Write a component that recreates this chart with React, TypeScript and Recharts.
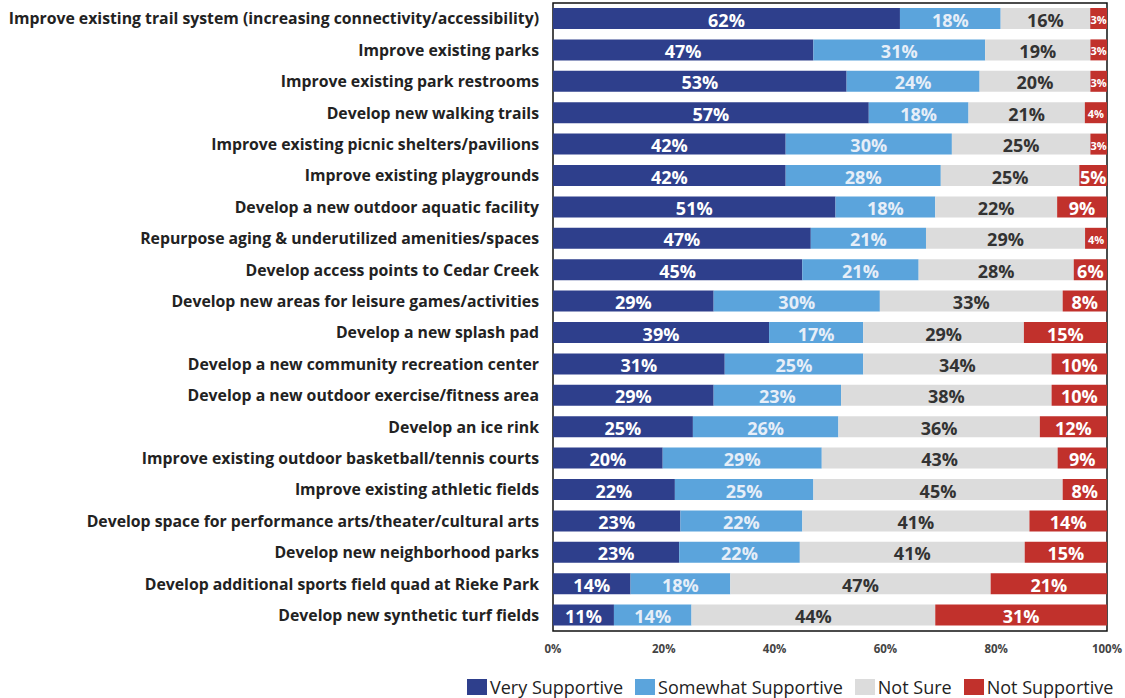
import React from "react";
import {
  BarChart,
  Bar,
  XAxis,
  YAxis,
  LabelList,
  ReferenceArea,
  Legend,
} from "recharts";

const categories = [
  "Improve existing trail system (increasing connectivity/accessibility)",
  "Improve existing parks",
  "Improve existing park restrooms",
  "Develop new walking trails",
  "Improve existing picnic shelters/pavilions",
  "Improve existing playgrounds",
  "Develop a new outdoor aquatic facility",
  "Repurpose aging & underutilized amenities/spaces",
  "Develop access points to Cedar Creek",
  "Develop new areas for leisure games/activities",
  "Develop a new splash pad",
  "Develop a new community recreation center",
  "Develop a new outdoor exercise/fitness area",
  "Develop an ice rink",
  "Improve existing outdoor basketball/tennis courts",
  "Improve existing athletic fields",
  "Develop space for performance arts/theater/cultural arts",
  "Develop new neighborhood parks",
  "Develop additional sports field quad at Rieke Park",
  "Develop new synthetic turf fields",
];

const verySupportive = [62, 47, 53, 57, 42, 42, 51, 47, 45, 29, 39, 31, 29, 25, 20, 22, 23, 23, 14, 11];
const somewhatSupportive = [18, 31, 24, 18, 30, 28, 18, 21, 21, 30, 17, 25, 23, 26, 29, 25, 22, 22, 18, 14];
const notSure = [16, 19, 20, 21, 25, 25, 22, 29, 28, 33, 29, 34, 38, 36, 43, 45, 41, 41, 47, 44];
const notSupportive = [3, 3, 3, 4, 3, 5, 9, 4, 6, 8, 15, 10, 10, 12, 9, 8, 14, 15, 21, 31];

const xTicks = [0, 0.2, 0.4, 0.6, 0.8, 1];

const SERIES = [
  { key: "very", name: "Very Supportive", color: "#2E3F8C", text: "#ffffff" },
  { key: "somewhat", name: "Somewhat Supportive", color: "#5BA4DC", text: "#e6eef8" },
  { key: "notSure", name: "Not Sure", color: "#DCDCDC", text: "#333333" },
  { key: "notSupp", name: "Not Supportive", color: "#C1312C", text: "#ffffff" },
];

const data = categories.map((name, i) => ({
  name,
  very: verySupportive[i],
  somewhat: somewhatSupportive[i],
  notSure: notSure[i],
  notSupp: notSupportive[i],
}));

const FONT = "'Open Sans', 'Liberation Sans', sans-serif";

const makeLabel = (fill: string) => (props: any) => {
  const { x, y, width, height, value } = props;
  const small = width < 24;
  return (
    <text
      x={x + width / 2}
      y={y + height / 2 + 1}
      fill={fill}
      textAnchor="middle"
      dominantBaseline="central"
      fontFamily={FONT}
      fontWeight={700}
      fontSize={small ? 11 : 18}
    >
      {`${value}%`}
    </text>
  );
};

const renderLegend = () => (
  <div
    style={{
      display: "flex",
      alignItems: "center",
      fontFamily: FONT,
      fontSize: 18,
      color: "#222",
      whiteSpace: "nowrap",
    }}
  >
    {SERIES.map((s) => (
      <div key={s.key} style={{ display: "flex", alignItems: "center", marginRight: 12 }}>
        <div style={{ width: 20, height: 16, background: s.color, marginRight: 3 }} />
        <span>{s.name}</span>
      </div>
    ))}
  </div>
);

export default function App() {
  return (
    <div style={{ position: "absolute", left: 0, top: 0, background: "#fff" }}>
      <BarChart
        width={1125}
        height={698}
        data={data}
        layout="vertical"
        stackOffset="expand"
        barCategoryGap={5}
        margin={{ top: 3, right: 18, bottom: 13, left: 0 }}
      >
        <XAxis
          type="number"
          domain={[0, 1]}
          ticks={xTicks}
          tickFormatter={(v: number) => `${Math.round(v * 100)}%`}
          axisLine={false}
          tickLine={false}
          tick={{ fontFamily: FONT, fontSize: 11.5, fontWeight: 700, fill: "#444" }}
          tickMargin={8}
        />
        <YAxis
          type="category"
          dataKey="name"
          width={553}
          interval={0}
          axisLine={false}
          tickLine={false}
          tickMargin={8}
          tick={{ fontFamily: FONT, fontSize: 15.8, fontWeight: 700, fill: "#222" }}
        />
        {SERIES.map((s) => (
          <Bar
            key={s.key}
            dataKey={s.key}
            name={s.name}
            stackId="a"
            fill={s.color}
            isAnimationActive={false}
          >
            <LabelList dataKey={s.key} content={makeLabel(s.text)} />
          </Bar>
        ))}
        <ReferenceArea x1={0} x2={1} fill="none" stroke="#111" strokeWidth={1.5} ifOverflow="visible" />
        <Legend
          content={renderLegend}
          wrapperStyle={{ position: "absolute", left: 467, top: 675, width: "auto" }}
        />
      </BarChart>
    </div>
  );
}
